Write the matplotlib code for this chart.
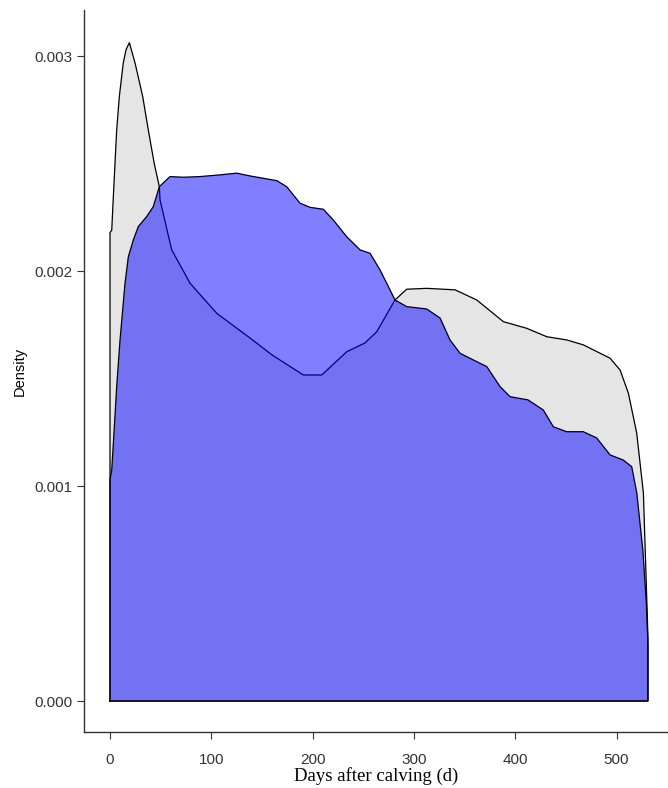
import matplotlib
matplotlib.use("Agg")
import matplotlib.pyplot as plt

# density curves read along days after calving
grey_days = [0, 0, 1.7, 3.3, 6.6, 9.2, 13.1, 15.8, 19.1, 24.7, 32.3, 37.8, 43.7, 48.7,
             49.4, 60.9, 79, 105.3, 138.2, 160, 190.8, 209, 233.7, 251.7, 263.3, 281.3,
             292.9, 312.6, 340.6, 362, 388.3, 411.4, 431.1, 450.8, 467.2, 493.6, 503.5,
             511.7, 519.9, 526.5, 529, 531, 531]
grey_dens = [0, 0.00218, 0.00219, 0.002347, 0.002657, 0.002812, 0.002969, 0.00303, 0.003063,
             0.002969, 0.002812, 0.002657, 0.0025, 0.002393, 0.002331, 0.002099, 0.001944,
             0.001804, 0.001689, 0.00161, 0.001517, 0.001517, 0.001625, 0.001666, 0.001718,
             0.001866, 0.001916, 0.00192, 0.001913, 0.001866, 0.001765, 0.001734, 0.001695,
             0.00168, 0.001657, 0.001595, 0.00154, 0.001432, 0.001247, 0.000968, 0.0006,
             0.0003, 0]

blue_days = [0, 0, 1.7, 3.3, 6.6, 9.9, 12.5, 14.8, 18.1, 23, 27.9, 36.2, 42.7, 48.7, 59.2,
             72.4, 88.8, 108.6, 125, 138.2, 164.6, 174.4, 187.6, 197.4, 210.6, 220.4, 233.7,
             246.8, 256.7, 266.5, 276.4, 281.3, 292.9, 312.6, 325.8, 335.6, 345.5, 362,
             371.9, 385, 394.9, 412.6, 427.7, 437.6, 450.8, 467.2, 480.4, 493.6, 506.7,
             515, 520, 526, 529.5, 531, 531]
blue_dens = [0, 0.00103, 0.001075, 0.001199, 0.001463, 0.00168, 0.001819, 0.001944, 0.002067,
             0.002145, 0.002207, 0.002254, 0.0023, 0.002393, 0.00244, 0.002437, 0.00244,
             0.002448, 0.002456, 0.002443, 0.002421, 0.002393, 0.002316, 0.002297, 0.002288,
             0.002238, 0.00216, 0.002099, 0.002083, 0.002006, 0.001913, 0.001866, 0.001835,
             0.001824, 0.001782, 0.00168, 0.001618, 0.001579, 0.001556, 0.001463, 0.001416,
             0.001401, 0.001354, 0.001276, 0.001253, 0.001253, 0.001224, 0.001145, 0.001121,
             0.00109, 0.000968, 0.0007, 0.00045, 0.00026, 0]

x_ticks = [0, 100, 200, 300, 400, 500]
y_ticks = [0.000, 0.001, 0.002, 0.003]

fig = plt.figure(figsize=(6.68, 7.88), dpi=100)
ax = fig.add_axes([0.1257, 0.0711, 0.8743, 0.9162])

ax.fill(grey_days, grey_dens, facecolor="#bebebe", alpha=0.4, edgecolor="none", zorder=1)
ax.plot(grey_days + [grey_days[0]], grey_dens + [grey_dens[0]], color="black", lw=0.9, zorder=2)
ax.fill(blue_days, blue_dens, facecolor="#0000ff", alpha=0.5, edgecolor="none", zorder=3)
ax.plot(blue_days + [blue_days[0]], blue_dens + [blue_dens[0]], color="black", lw=0.9, zorder=4)

ax.set_xlim(-25.7, 550.8)
ax.set_ylim(-0.000144, 0.003215)
ax.set_xticks(x_ticks)
ax.set_yticks(y_ticks)
ax.set_yticklabels(["%.3f" % v for v in y_ticks])

for side in ("top", "right"):
    ax.spines[side].set_visible(False)
for side in ("left", "bottom"):
    ax.spines[side].set_color("#333333")
    ax.spines[side].set_linewidth(1.0)

ax.tick_params(axis="both", direction="out", length=5, width=0.8, color="#333333",
               labelcolor="#333333", labelsize=11, pad=3)
ax.tick_params(axis="x", pad=10)
for lab in ax.get_xticklabels() + ax.get_yticklabels():
    lab.set_family("Liberation Sans")

ax.set_xlabel("Days after calving (d)", family="Liberation Serif", fontsize=13.5, labelpad=0)
ax.set_ylabel("Density", family="Liberation Sans", fontsize=10.5, labelpad=6)

fig.savefig("out.png", dpi=100)
